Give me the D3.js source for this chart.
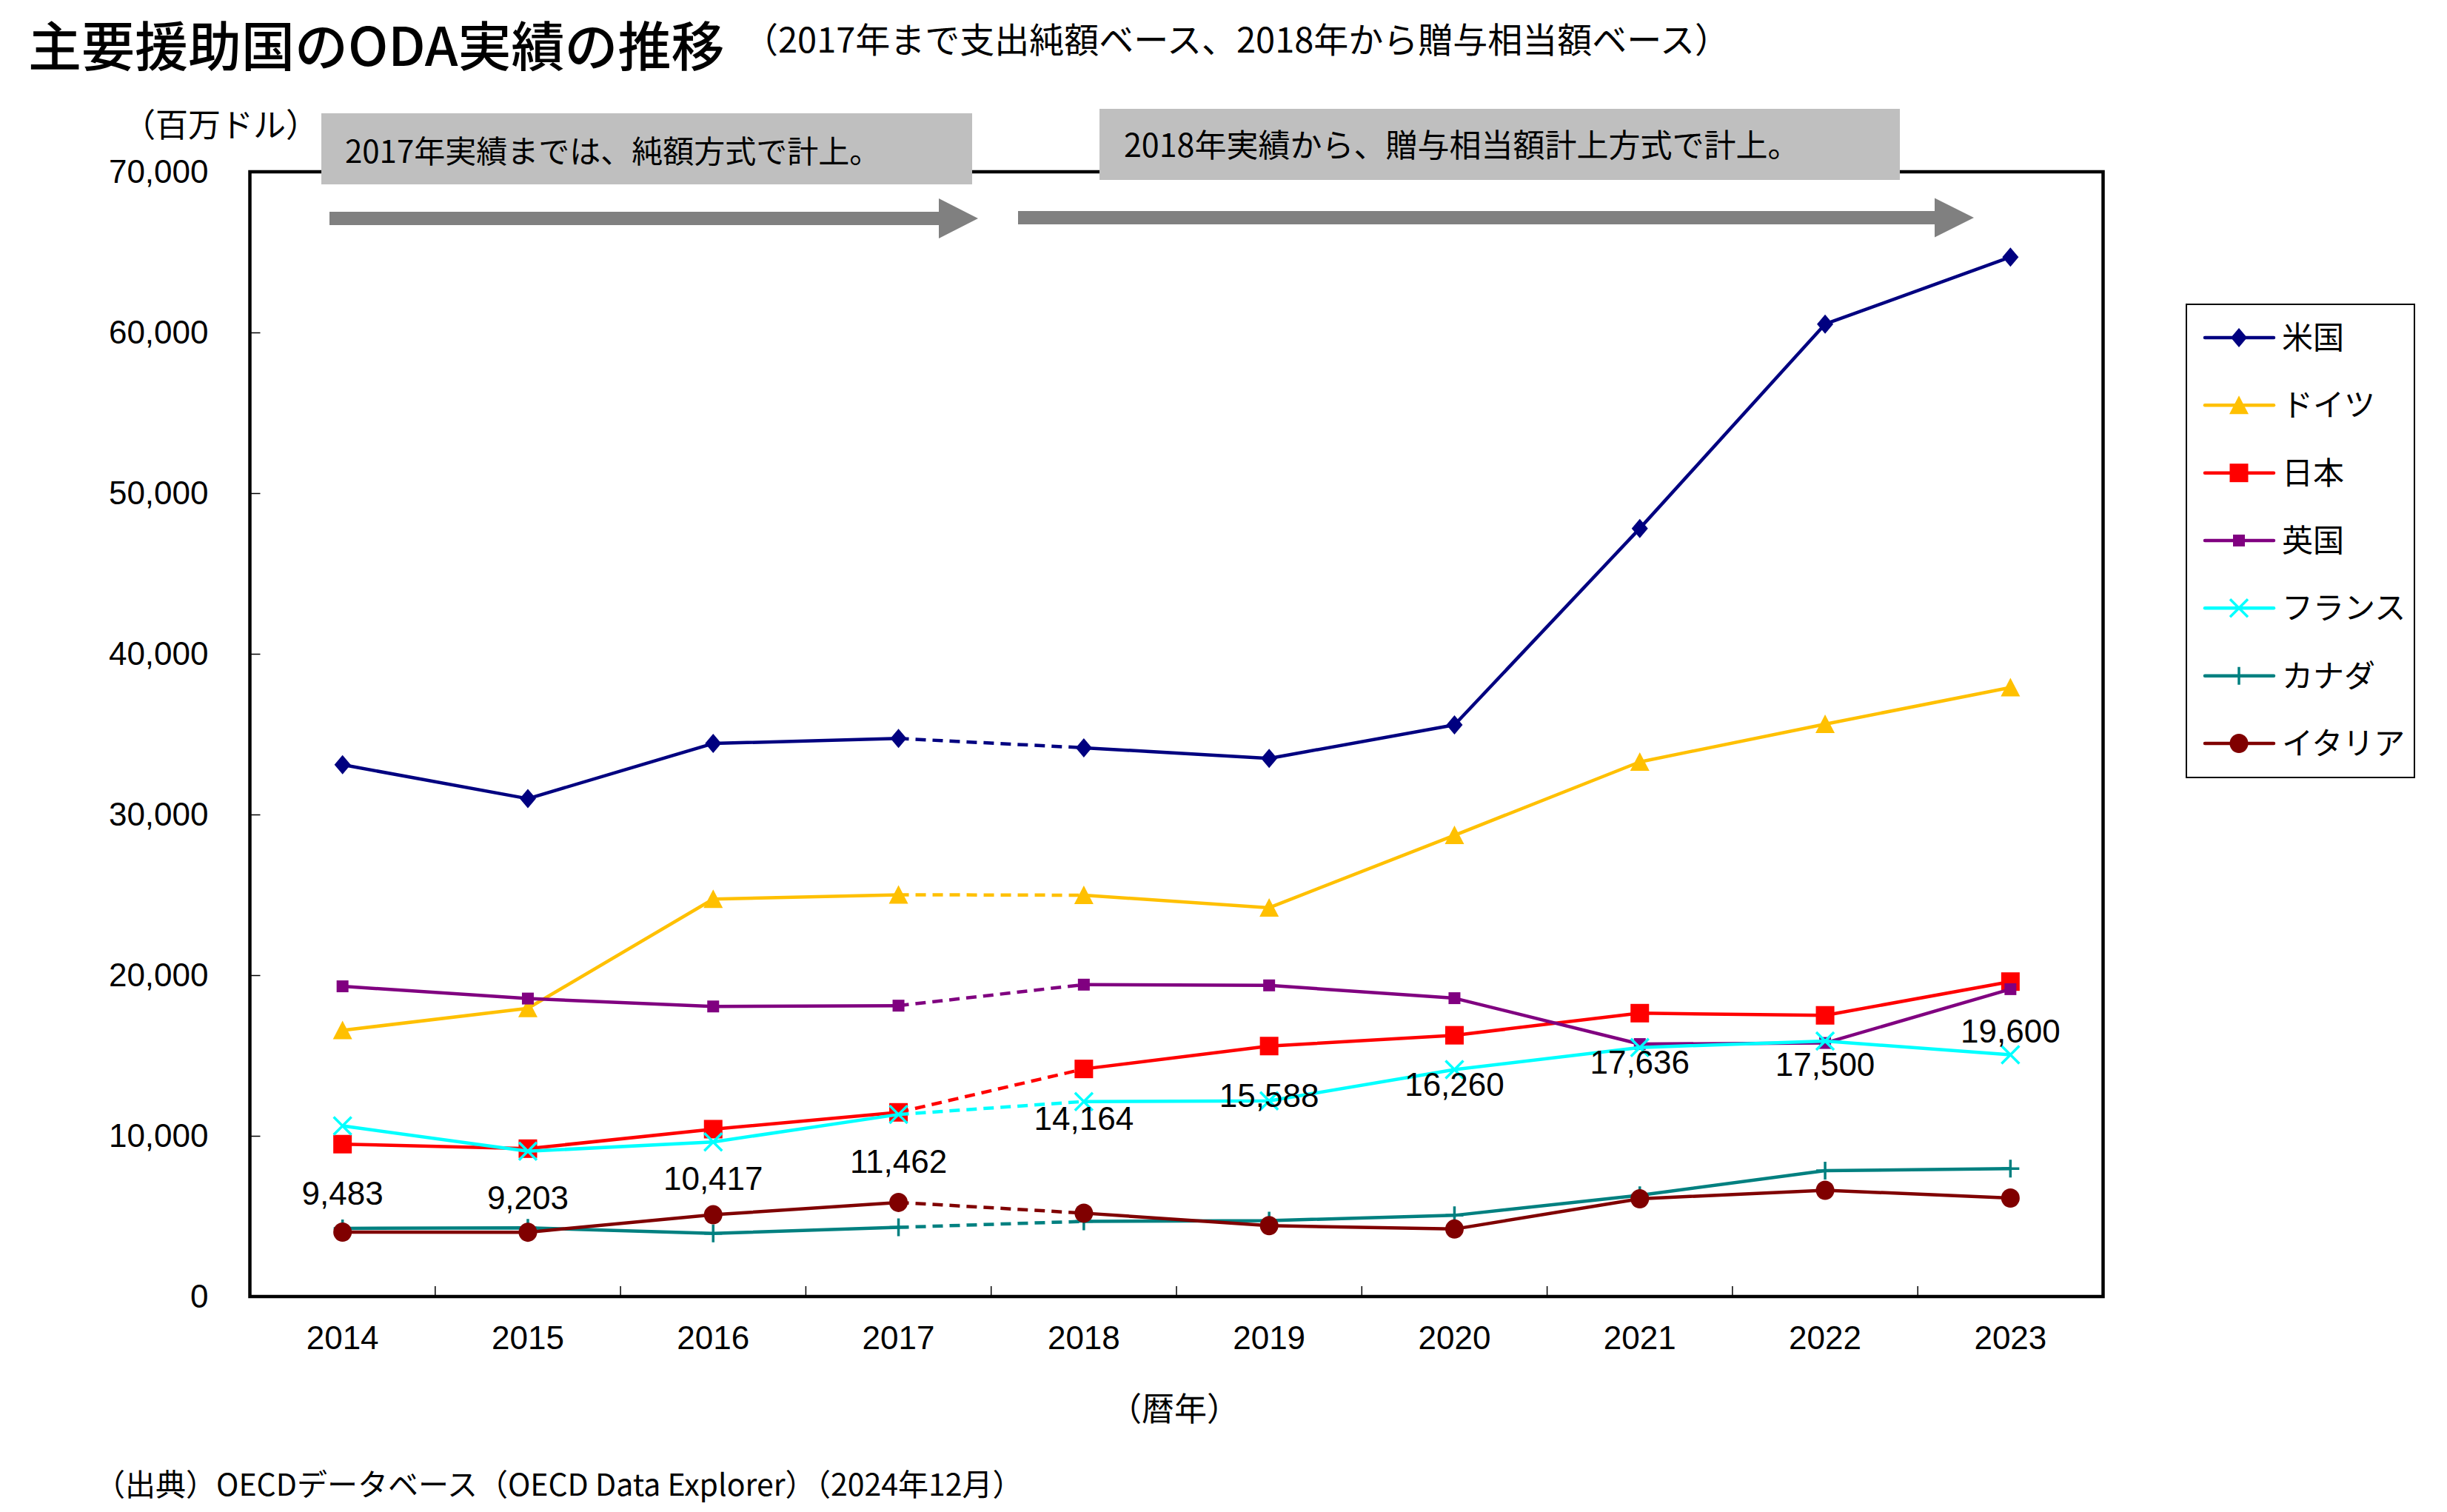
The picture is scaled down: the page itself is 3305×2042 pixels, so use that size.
<!DOCTYPE html>
<html>
<head>
<meta charset="utf-8">
<script src="https://cdn.jsdelivr.net/npm/d3@7"></script>
<style>
  html, body { margin: 0; padding: 0; background: #fff; }
  svg { display: block; }
  .jp { font-family: "Noto Sans CJK JP", "Noto Sans", sans-serif; }
  .num { font-family: "Liberation Sans", Arial, sans-serif; }
</style>
</head>
<body>
<script>
// ---------------- data ----------------
const years = ["2014","2015","2016","2017","2018","2019","2020","2021","2022","2023"];
const usValues      = [33096, 30986, 34421, 34732, 34152, 33492, 35576, 47805, 60522, 64690];
const germanyValues = [16566, 17940, 24736, 25005, 24977, 24198, 28708, 33272, 35622, 37906];
const japanValues   = [9483, 9203, 10417, 11462, 14164, 15588, 16260, 17636, 17500, 19600];
const ukValues      = [19306, 18545, 18053, 18103, 19410, 19365, 18568, 15712, 15780, 19130];
const franceValues  = [10620, 9039, 9622, 11331, 12136, 12176, 14125, 15500, 15900, 15050];
const canadaValues  = [4240, 4277, 3930, 4305, 4679, 4725, 5052, 6303, 7832, 7960];
const italyValues   = [4009, 4003, 5087, 5858, 5190, 4411, 4200, 6085, 6615, 6130];
const seriesNames   = ["米国","ドイツ","日本","英国","フランス","カナダ","イタリア"];
const seriesColors  = ["#000080","#FFC000","#FF0000","#800080","#00FFFF","#008080","#800000"];
const seriesMarkers = ["diamond","triangle","square","smallsquare","cross","plus","circle"];
const yTicks = [0,10000,20000,30000,40000,50000,60000,70000];
const labelSeries = japanValues; // data labels shown for Japan

const titleText = "主要援助国のODA実績の推移";
const subtitleText = "（2017年まで支出純額ベース、2018年から贈与相当額ベース）";
const unitText = "（百万ドル）";
const note1Text = "2017年実績までは、純額方式で計上。";
const note2Text = "2018年実績から、贈与相当額計上方式で計上。";
const xTitleText = "（暦年）";
const sourceText = "（出典）OECDデータベース（OECD Data Explorer）（2024年12月）";

const allSeries = [usValues, germanyValues, japanValues, ukValues, franceValues, canadaValues, italyValues]
  .map((vals, i) => ({ name: seriesNames[i], color: seriesColors[i], marker: seriesMarkers[i], values: vals }));

// ---------------- layout ----------------
const W = 3305, H = 2042;
const plot = { left: 337.5, right: 2840.5, top: 232, bottom: 1751 };

const svg = d3.select("body").append("svg").attr("width", W).attr("height", H);
svg.append("rect").attr("width", W).attr("height", H).attr("fill", "#fff");

const x = d3.scaleBand().domain(years).range([plot.left, plot.right]).paddingInner(0).paddingOuter(0);
const xc = d => x(d) + x.bandwidth() / 2;
const y = d3.scaleLinear().domain([0, 70000]).range([plot.bottom, plot.top]);

// title
svg.append("text").attr("class", "jp").attr("x", 38).attr("y", 89)
  .attr("font-size", 72).attr("font-weight", 500).text(titleText);
svg.append("text").attr("class", "jp").attr("x", 1004).attr("y", 71)
  .attr("font-size", 47).text(subtitleText);

// unit label
svg.append("text").attr("class", "jp").attr("x", 298).attr("y", 185)
  .attr("text-anchor", "middle").attr("font-size", 44).text(unitText);

// y axis
const yAxis = d3.axisLeft(y).tickValues(yTicks).tickFormat(d3.format(","))
  .tickSizeInner(-14).tickSizeOuter(0).tickPadding(56);
const gy = svg.append("g").attr("transform", `translate(${plot.left},0)`).call(yAxis);
gy.select(".domain").remove();
gy.selectAll(".tick line").attr("stroke", "#000").attr("stroke-width", 1.5);
gy.selectAll(".tick text").attr("class", "num").attr("font-size", 44).attr("fill", "#000");

// x axis
const xAxis = d3.axisBottom(x).tickSize(0).tickPadding(40);
const gx = svg.append("g").attr("transform", `translate(0,${plot.bottom})`).call(xAxis);
gx.select(".domain").remove();
gx.selectAll(".tick text").attr("class", "num").attr("font-size", 44).attr("fill", "#000");
// ticks between categories (inside, pointing up)
svg.append("g").selectAll("line").data(years.slice(1)).join("line")
  .attr("x1", d => x(d)).attr("x2", d => x(d))
  .attr("y1", plot.bottom).attr("y2", plot.bottom - 14)
  .attr("stroke", "#000").attr("stroke-width", 1.5);

// plot frame
svg.append("rect").attr("x", plot.left).attr("y", plot.top)
  .attr("width", plot.right - plot.left).attr("height", plot.bottom - plot.top)
  .attr("fill", "none").attr("stroke", "#000").attr("stroke-width", 4.5);

// x title
svg.append("text").attr("class", "jp").attr("x", 1586).attr("y", 1919)
  .attr("text-anchor", "middle").attr("font-size", 44).text(xTitleText);

// source
svg.append("text").attr("class", "jp").attr("x", 128).attr("y", 2020)
  .attr("font-size", 41).text(sourceText);

// annotation boxes
svg.append("rect").attr("x", 434).attr("y", 153).attr("width", 879).attr("height", 96).attr("fill", "#BFBFBF");
svg.append("text").attr("class", "jp").attr("x", 466).attr("y", 220).attr("font-size", 42).text(note1Text);
svg.append("rect").attr("x", 1485).attr("y", 147).attr("width", 1081).attr("height", 96).attr("fill", "#BFBFBF");
svg.append("text").attr("class", "jp").attr("x", 1518).attr("y", 212).attr("font-size", 43).text(note2Text);

// arrows
function arrow(x0, x1, tip, yMid, shaftH, headH) {
  return `M${x0},${yMid - shaftH/2} L${x1},${yMid - shaftH/2} L${x1},${yMid - headH/2} L${tip},${yMid} ` +
         `L${x1},${yMid + headH/2} L${x1},${yMid + shaftH/2} L${x0},${yMid + shaftH/2} Z`;
}
svg.append("path").attr("d", arrow(445, 1268, 1321, 295, 18, 54)).attr("fill", "#808080");
svg.append("path").attr("d", arrow(1375, 2613, 2666, 294, 18, 53)).attr("fill", "#808080");

// markers
function drawMarker(g, type, color) {
  switch (type) {
    case "diamond":
      g.append("path").attr("d", "M0,-13L11,0L0,13L-11,0Z").attr("fill", color); break;
    case "triangle":
      g.append("path").attr("d", "M0,-13L13,12L-13,12Z").attr("fill", color); break;
    case "square":
      g.append("rect").attr("x", -12.5).attr("y", -12.5).attr("width", 25).attr("height", 25).attr("fill", color); break;
    case "smallsquare":
      g.append("rect").attr("x", -8).attr("y", -8).attr("width", 16).attr("height", 16).attr("fill", color); break;
    case "cross":
      g.append("path").attr("d", "M-12,-12L12,12M-12,12L12,-12").attr("stroke", color).attr("stroke-width", 3.5).attr("fill", "none"); break;
    case "plus":
      g.append("path").attr("d", "M0,-12L0,12M-12,0L12,0").attr("stroke", color).attr("stroke-width", 3.5).attr("fill", "none"); break;
    case "circle":
      g.append("ellipse").attr("rx", 12.5).attr("ry", 13).attr("fill", color); break;
  }
}

// series lines
const line = d3.line().x(d => xc(d.year)).y(d => y(d.value));
const breakIdx = years.indexOf("2017");
const gLines = svg.append("g");
allSeries.forEach(s => {
  const pts = s.values.map((v, i) => ({ year: years[i], value: v }));
  const g = gLines.append("g");
  g.append("path").datum(pts.slice(0, breakIdx + 1)).attr("d", line)
    .attr("fill", "none").attr("stroke", s.color).attr("stroke-width", 4.5).attr("stroke-linejoin", "round");
  g.append("path").datum(pts.slice(breakIdx, breakIdx + 2)).attr("d", line)
    .attr("fill", "none").attr("stroke", s.color).attr("stroke-width", 4.5).attr("stroke-dasharray", "14,9");
  g.append("path").datum(pts.slice(breakIdx + 1)).attr("d", line)
    .attr("fill", "none").attr("stroke", s.color).attr("stroke-width", 4.5).attr("stroke-linejoin", "round");
  pts.forEach(p => {
    const m = g.append("g").attr("transform", `translate(${xc(p.year)},${y(p.value)})`);
    drawMarker(m, s.marker, s.color);
  });
});

// data labels (Japan)
svg.append("g").selectAll("text").data(labelSeries.map((v, i) => ({ year: years[i], value: v }))).join("text")
  .attr("class", "num").attr("font-size", 44).attr("text-anchor", "middle")
  .attr("x", d => xc(d.year)).attr("y", d => y(d.value) + 82)
  .text(d => d3.format(",")(d.value));

// legend
const lg = svg.append("g");
lg.append("rect").attr("x", 2953).attr("y", 411).attr("width", 308).attr("height", 639)
  .attr("fill", "#fff").attr("stroke", "#000").attr("stroke-width", 2);
const legendY = d3.scalePoint().domain(seriesNames).range([456, 1004]);
allSeries.forEach(s => {
  const yy = legendY(s.name);
  lg.append("line").attr("x1", 2978).attr("x2", 3071).attr("y1", yy).attr("y2", yy)
    .attr("stroke", s.color).attr("stroke-width", 4.5).attr("stroke-linecap", "round");
  const m = lg.append("g").attr("transform", `translate(3024,${yy})`);
  drawMarker(m, s.marker, s.color);
  lg.append("text").attr("class", "jp").attr("x", 3082).attr("y", yy + 15)
    .attr("font-size", 42).text(s.name);
});
</script>
</body>
</html>
